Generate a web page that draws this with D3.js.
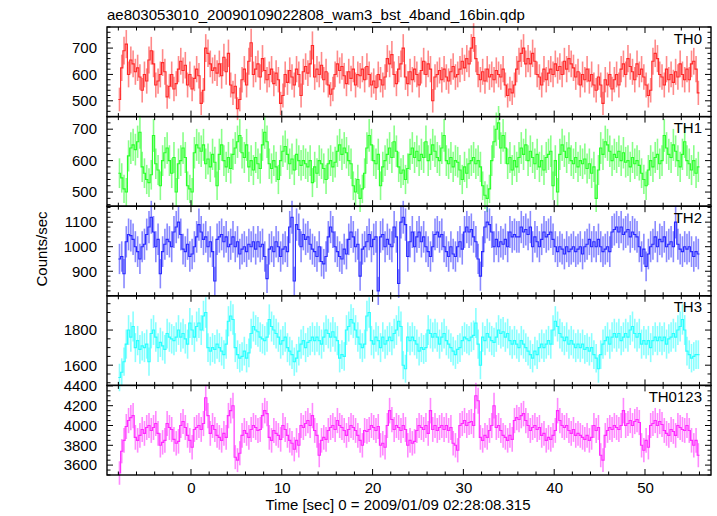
<!DOCTYPE html>
<html><head><meta charset="utf-8">
<script src="https://cdn.jsdelivr.net/npm/d3@7"></script>
<style>
body{margin:0;background:#fff}
svg{display:block}
text{font-family:"Liberation Sans",Arial,Helvetica,sans-serif;fill:#000}
</style>
</head><body>
<svg id="chart" width="717" height="516"></svg>
<script>
// ---------- data ----------
const titleText = "ae803053010_20090109022808_wam3_bst_4band_16bin.qdp";
const xLabelText = "Time [sec] 0 = 2009/01/09 02:28:08.315";
const yLabelText = "Counts/sec";
const binWidth = 0.25;      // seconds per bin
const tStart = -7.875;      // centre of first bin
const xTickValues = [0, 10, 20, 30, 40, 50];
const xMinorStep = 2;
const xDomain = [-9.25, 57.27];
const bandNames = ["TH0", "TH1", "TH2", "TH3", "TH0123"];
const bandColors = ["#ff2828", "#28ff28", "#2828ff", "#28ffff", "#ff28ff"];
const yDomains = [[440, 780], [455, 740], [800, 1165], [1485, 1995], [3500, 4405]];
const yTickValues = [[500, 600, 700], [500, 600, 700], [900, 1000, 1100], [1600, 1800], [3600, 3800, 4000, 4200, 4400]];
const yMinorSteps = [20, 20, 20, 50, 50];

const th0 = [
505,625,690,715,600,655,640,610,625,590,
540,600,575,655,690,640,560,575,600,645,
610,515,555,600,545,565,620,650,615,635,
560,600,545,585,620,595,490,540,700,680,
640,615,625,605,640,595,665,610,680,560,
530,555,470,505,580,620,560,650,720,600,
620,640,590,660,615,580,600,620,565,605,
580,490,520,600,570,615,590,560,620,600,
520,610,630,605,640,710,590,620,600,635,
580,610,560,525,545,600,640,615,630,595,
565,610,585,620,560,600,595,620,580,630,
600,560,575,550,600,580,560,590,660,640,
675,600,565,620,640,700,590,565,610,580,
620,600,560,615,650,600,640,620,500,590,
600,615,580,620,590,575,610,630,590,600,
620,650,625,660,640,700,740,660,600,580,
610,575,620,590,600,580,615,600,590,620,
560,520,545,530,560,620,650,680,700,640,
660,640,680,650,600,590,560,620,580,605,
620,600,640,615,630,600,650,620,660,640,
625,590,610,560,600,580,620,575,600,560,
540,590,560,490,580,560,600,545,580,600,
560,620,640,600,660,630,610,580,640,600,
620,590,560,520,540,650,680,660,600,590,
560,620,580,600,570,610,590,640,600,580,
620,580,640,650,620,530];

const th1 = [
560,545,510,500,615,640,650,635,660,690,
580,560,540,530,555,680,590,570,520,600,
625,640,600,560,610,500,590,600,640,610,
520,510,500,625,650,640,630,650,590,605,
580,620,595,520,620,650,600,580,610,575,
620,640,660,680,625,610,650,580,600,570,
610,590,575,650,690,660,590,575,600,580,
540,600,630,645,620,590,605,570,620,600,
585,600,590,580,600,530,580,560,600,590,
575,540,590,600,580,595,630,650,620,640,
625,600,590,520,500,540,480,510,560,640,
680,650,600,590,620,520,580,600,620,640,
610,660,630,580,560,570,540,575,620,640,
610,630,600,620,610,660,600,620,650,630,
610,600,640,680,600,590,610,580,600,595,
570,540,580,560,590,600,610,590,600,580,
520,490,480,510,600,660,700,720,640,680,
640,590,610,570,600,580,610,640,620,650,
600,630,610,590,620,580,600,570,610,620,
630,520,600,500,620,650,630,610,640,600,
590,610,580,600,590,605,575,590,560,580,
480,570,640,620,660,650,630,600,620,610,
630,600,625,595,600,580,610,590,600,585,
560,540,520,570,600,580,610,620,590,600,
680,640,620,610,650,630,600,580,620,660,
600,590,570,600,560,580];

const th2 = [
950,960,890,1020,1050,1045,1030,1000,980,950,
1000,1010,1050,1080,1120,1060,1000,1030,890,980,
1010,1030,1020,1000,1060,1080,1100,1050,990,980,
1010,960,970,1000,1040,1090,1060,1030,1040,1000,
1020,980,860,1030,1040,1050,1020,1040,1000,1010,
1040,1000,1020,970,990,1000,980,1010,1000,1020,
990,1020,1000,1010,960,870,990,1000,980,1020,
1000,960,990,1000,980,1080,1120,860,1090,1070,
1000,1050,1030,1040,1010,990,980,960,1000,940,
930,960,1040,1080,1060,1000,980,960,950,990,
970,1030,1060,1040,1000,1010,880,990,1000,1020,
1050,1000,1030,1040,820,1040,1050,1000,1030,1010,
1000,1080,1040,850,1100,1120,1090,960,1020,1060,
1000,1040,1060,1020,1040,1000,980,960,1000,1050,
1060,1040,1050,1000,980,960,1000,970,960,1000,
1020,990,1060,1080,1060,1070,1040,1020,950,880,
980,1080,1100,1090,1060,1000,1030,1000,1020,1010,
1030,1000,1060,1040,1050,1040,1040,1080,1060,1070,
1050,1080,1000,1040,1020,1000,1030,1060,1040,1050,
1060,1030,1000,980,1000,990,970,1000,980,990,
1000,980,990,1000,970,1000,1010,1030,1000,1020,
1000,1030,1000,980,990,1000,980,1060,1070,1080,
1060,1080,1050,1060,1070,1040,1060,1050,1040,1000,
960,990,920,970,1000,1010,1040,1000,1030,1020,
1040,1000,1010,1020,1000,1100,1010,990,980,1000,
990,1000,980,960,980,970];

const th3 = [
1530,1560,1620,1720,1800,1760,1820,1700,1740,1690,
1710,1700,1720,1620,1780,1800,1760,1700,1730,1710,
1690,1780,1760,1750,1740,1760,1800,1760,1780,1750,
1720,1840,1800,1760,1820,1840,1800,1880,1900,1700,
1680,1700,1690,1720,1700,1680,1660,1720,1850,1880,
1860,1700,1660,1640,1650,1680,1640,1670,1780,1820,
1800,1790,1760,1750,1740,1760,1860,1820,1800,1780,
1760,1720,1740,1760,1700,1680,1660,1620,1640,1680,
1720,1740,1700,1730,1740,1760,1740,1760,1740,1720,
1760,1800,1780,1760,1790,1760,1740,1640,1660,1650,
1800,1820,1860,1840,1800,1760,1720,1700,1720,1880,
1900,1740,1720,1760,1740,1700,1760,1720,1740,1760,
1740,1780,1800,1850,1820,1600,1580,1760,1740,1760,
1740,1720,1680,1700,1690,1700,1800,1780,1760,1780,
1760,1720,1760,1780,1740,1720,1700,1680,1660,1690,
1700,1740,1760,1750,1740,1760,1770,1840,1720,1600,
1760,1740,1780,1760,1740,1730,1760,1800,1780,1790,
1760,1780,1740,1720,1740,1720,1700,1740,1720,1700,
1680,1660,1640,1680,1660,1700,1720,1700,1720,1740,
1720,1800,1850,1820,1780,1760,1740,1760,1720,1740,
1720,1700,1720,1700,1720,1690,1700,1680,1700,1660,
1640,1580,1660,1720,1740,1760,1720,1760,1780,1760,
1780,1740,1760,1780,1760,1800,1820,1780,1760,1780,
1720,1740,1720,1740,1700,1740,1760,1740,1760,1740,
1760,1720,1750,1760,1780,1760,1800,1820,1860,1800,
1680,1660,1640,1650,1660,1660];

const th0123 = [
3520,3740,3850,3990,4050,4080,4100,3880,3850,3900,
3960,3920,3980,4000,3950,3980,4020,3920,3800,3830,
3850,4020,3980,3960,3860,3820,3840,4000,4040,3980,
3900,3850,3780,3960,3980,4000,3960,4020,4280,4100,
3920,4000,3960,3900,3880,3850,3920,3880,4100,4150,
4200,3680,3650,3720,3900,3950,3920,3880,3960,4000,
3980,3950,3960,4100,4150,4120,3880,3850,3950,3920,
3900,3860,4000,3960,3900,3850,3820,3760,3850,3800,
4000,3980,4020,4050,4000,4100,3950,3900,3700,3850,
3880,3860,3950,3980,4000,3960,4050,4000,3980,3950,
3900,3960,4000,3980,3950,3900,3850,3800,3950,3940,
3960,4000,3980,3950,3990,3800,3820,3780,4000,4150,
4060,3960,4000,3980,3950,4000,3960,3800,3850,3820,
3840,3950,4000,3980,3960,4000,3920,4150,3960,4000,
3950,3980,4000,3960,4000,3950,3980,3820,3800,3750,
4000,4020,4050,4000,4030,4040,4000,4300,4250,3880,
3850,3900,3880,3950,4000,4200,3980,4000,3950,3900,
3880,3850,3900,3860,4050,4080,4060,4100,4120,4050,
4000,3950,3980,4000,3960,3980,3900,3920,3850,3880,
3860,3900,3950,4150,4050,4000,3980,4000,3950,3920,
3960,3900,3920,3900,3880,3860,3900,3850,3880,4000,
3950,3980,3700,3650,3900,3950,3980,3960,4000,3980,
3960,4000,4150,4000,4020,4050,4000,4040,4060,4030,
3800,3750,3850,3780,4000,4020,4050,4000,4040,4010,
3950,3920,3900,3960,3940,3900,4000,3980,3960,3950,
4000,3950,3850,3800,3850,3700];

const bandSeries = [th0, th1, th2, th3, th0123];

// ---------- layout ----------
const plotLeft = 107, plotRight = 711, plotTop = 27, plotBottom = 475;
const nPanels = bandSeries.length;
const panelH = (plotBottom - plotTop) / nPanels;
const fontSize = 15;

const svg = d3.select("#chart");
const x = d3.scaleLinear().domain(xDomain).range([plotLeft, plotRight]);

function rangeTicks(domain, step) {
  const out = [];
  const start = Math.ceil(domain[0] / step) * step;
  for (let v = start; v <= domain[1] + 1e-9; v += step) out.push(+v.toFixed(6));
  return out;
}
const xMinor = rangeTicks(xDomain, xMinorStep);

const majorLen = 6, minorLen = 3.5;

bandSeries.forEach((vals, k) => {
  const top = plotTop + k * panelH, bottom = top + panelH;
  const y = d3.scaleLinear().domain(yDomains[k]).range([bottom, top]);
  const color = bandColors[k];
  const g = svg.append("g");

  const pts = vals.map((v, i) => ({ t: tStart + i * binWidth, v: v, e: Math.sqrt(v / binWidth) }));

  // error bars (vertical)
  g.selectAll("line.err").data(pts).join("line")
    .attr("class", "err")
    .attr("x1", d => x(d.t)).attr("x2", d => x(d.t))
    .attr("y1", d => y(d.v - d.e)).attr("y2", d => y(d.v + d.e))
    .attr("stroke", color).attr("stroke-width", 1.6).attr("stroke-opacity", 0.55);

  // step line through the bins
  const stepPts = pts.map(d => ({ t: d.t - binWidth / 2, v: d.v }));
  stepPts.push({ t: pts[pts.length - 1].t + binWidth / 2, v: pts[pts.length - 1].v });
  const stepLine = d3.line().x(d => x(d.t)).y(d => y(d.v)).curve(d3.curveStepAfter);
  g.append("path").datum(stepPts).attr("d", stepLine)
    .attr("fill", "none").attr("stroke", color).attr("stroke-width", 1.1);

  // frame
  const fr = svg.append("g").attr("stroke", "#000").attr("fill", "none");
  fr.append("rect").attr("x", plotLeft).attr("y", top).attr("width", plotRight - plotLeft).attr("height", panelH)
    .attr("stroke-width", 1.4);

  // y ticks (left with labels, right without)
  const yMin = rangeTicks(yDomains[k], yMinorSteps[k]);
  yMin.forEach(v => {
    const isMajor = yTickValues[k].includes(v);
    const L = isMajor ? majorLen : minorLen;
    fr.append("line").attr("x1", plotLeft).attr("x2", plotLeft + L).attr("y1", y(v)).attr("y2", y(v)).attr("stroke-width", 1);
    fr.append("line").attr("x1", plotRight).attr("x2", plotRight - L).attr("y1", y(v)).attr("y2", y(v)).attr("stroke-width", 1);
  });
  const yAxis = d3.axisLeft(y).tickValues(yTickValues[k]).tickSize(0).tickPadding(10).tickFormat(d3.format("d"));
  const ya = svg.append("g").attr("transform", `translate(${plotLeft},0)`).call(yAxis);
  ya.select(".domain").remove();
  ya.selectAll("text").attr("font-size", fontSize).attr("font-family", null);

  // x ticks top and bottom
  xMinor.forEach(v => {
    const isMajor = xTickValues.includes(v);
    const L = isMajor ? majorLen : minorLen;
    fr.append("line").attr("x1", x(v)).attr("x2", x(v)).attr("y1", top).attr("y2", top + L).attr("stroke-width", 1);
    fr.append("line").attr("x1", x(v)).attr("x2", x(v)).attr("y1", bottom).attr("y2", bottom - L).attr("stroke-width", 1);
  });

  // band label
  svg.append("text").attr("x", 702).attr("y", top + 16.5).attr("text-anchor", "end")
    .attr("font-size", fontSize).text(bandNames[k]);

  if (k === nPanels - 1) {
    const xAxis = d3.axisBottom(x).tickValues(xTickValues).tickSize(0).tickPadding(7).tickFormat(d3.format("d"));
    const xa = svg.append("g").attr("transform", `translate(0,${bottom})`).call(xAxis);
    xa.select(".domain").remove();
    xa.selectAll("text").attr("font-size", fontSize).attr("font-family", null);
  }
});

// titles
svg.append("text").attr("x", plotLeft).attr("y", 19.5).attr("font-size", fontSize).text(titleText);
svg.append("text").attr("x", 398).attr("y", 510).attr("text-anchor", "middle").attr("font-size", fontSize).text(xLabelText);
svg.append("text").attr("transform", "translate(47,249) rotate(-90)").attr("text-anchor", "middle")
  .attr("font-size", fontSize).text(yLabelText);
</script>
</body></html>
